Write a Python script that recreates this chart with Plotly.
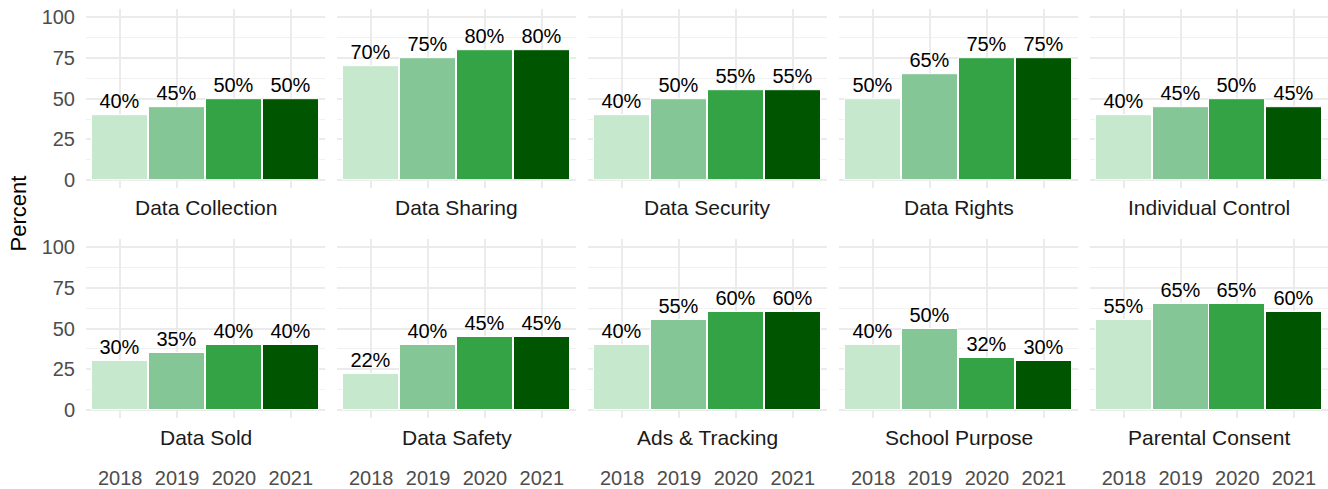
import plotly.graph_objects as go

years = ["2018", "2019", "2020", "2021"]
categories = ["Data Collection", "Data Sharing", "Data Security", "Data Rights",
              "Individual Control", "Data Sold", "Data Safety", "Ads & Tracking",
              "School Purpose", "Parental Consent"]
data_collection = [40, 45, 50, 50]
data_sharing = [70, 75, 80, 80]
data_security = [40, 50, 55, 55]
data_rights = [50, 65, 75, 75]
individual_control = [40, 45, 50, 45]
data_sold = [30, 35, 40, 40]
data_safety = [22, 40, 45, 45]
ads_tracking = [40, 55, 60, 60]
school_purpose = [40, 50, 32, 30]
parental_consent = [55, 65, 65, 60]
series = [data_collection, data_sharing, data_security, data_rights, individual_control,
          data_sold, data_safety, ads_tracking, school_purpose, parental_consent]
y_ticks = [0, 25, 50, 75, 100]
colors = ["#c6e8cc", "#85c697", "#33a346", "#005500"]

W, H = 1328, 489
panel_x = [(86, 325), (337, 576), (588, 827), (839, 1078), (1090, 1328)]
panel_y = [(9.2, 188.2), (239, 418)]
label_y = [207, 437]
FONT = "Liberation Sans"

fig = go.Figure()
for i, (cat, vals) in enumerate(zip(categories, series)):
    r, c = divmod(i, 5)
    n = i + 1
    xa = "x" if n == 1 else f"x{n}"
    ya = "y" if n == 1 else f"y{n}"
    fig.add_trace(go.Bar(
        x=years, y=vals, xaxis=xa, yaxis=ya,
        marker=dict(color=colors, line=dict(color="white", width=1)),
        width=0.99,
        texttemplate="%{y}%", textposition="outside", constraintext="none",
        textfont=dict(family=FONT, size=20, color="black"),
        cliponaxis=False, showlegend=False, hoverinfo="skip",
    ))
    x0, x1 = panel_x[c]
    y0, y1 = panel_y[r]
    xdom = [x0 / W, x1 / W]
    ydom = [1 - y1 / H, 1 - y0 / H]
    fig.update_layout(**{
        ("xaxis" if n == 1 else f"xaxis{n}"): dict(
            domain=xdom, anchor=ya, type="category", range=[-0.6, 3.6],
            showgrid=True, gridcolor="#ebebeb", gridwidth=2, zeroline=False,
            showline=False, ticks="", showticklabels=(r == 1),
            tickfont=dict(family=FONT, size=20, color="#4d4d4d"),
            ticklabelstandoff=46, automargin=False, fixedrange=True,
        ),
        ("yaxis" if n == 1 else f"yaxis{n}"): dict(
            domain=ydom, anchor=xa, range=[-5, 105],
            tickvals=y_ticks, showgrid=True, gridcolor="#ebebeb", gridwidth=2,
            minor=dict(tickvals=[12.5, 37.5, 62.5, 87.5], showgrid=True,
                       gridcolor="#f1f1f1", gridwidth=1),
            zeroline=False, showline=False, ticks="",
            showticklabels=(c == 0),
            tickfont=dict(family=FONT, size=20, color="#4d4d4d"),
            ticklabelstandoff=10, automargin=False, fixedrange=True,
        ),
    })
    fig.add_annotation(
        text=cat, xref=f"{xa} domain", yref="paper", x=0.5, y=1 - label_y[r] / H,
        xanchor="center", yanchor="middle", showarrow=False,
        font=dict(family=FONT, size=21, color="#1a1a1a"),
    )

fig.add_annotation(
    text="Percent", xref="paper", yref="paper", x=18 / W, y=1 - 213.5 / H,
    xanchor="center", yanchor="middle", textangle=-90, showarrow=False,
    font=dict(family=FONT, size=22, color="black"),
)

fig.update_layout(
    width=W, height=H, margin=dict(l=0, r=0, t=0, b=0, autoexpand=False),
    paper_bgcolor="white", plot_bgcolor="white", bargap=0,
)
fig.write_html(
    "out.html",
    config={"displayModeBar": False},
    post_script="document.body.style.margin='0';document.body.style.overflow='hidden';",
)
